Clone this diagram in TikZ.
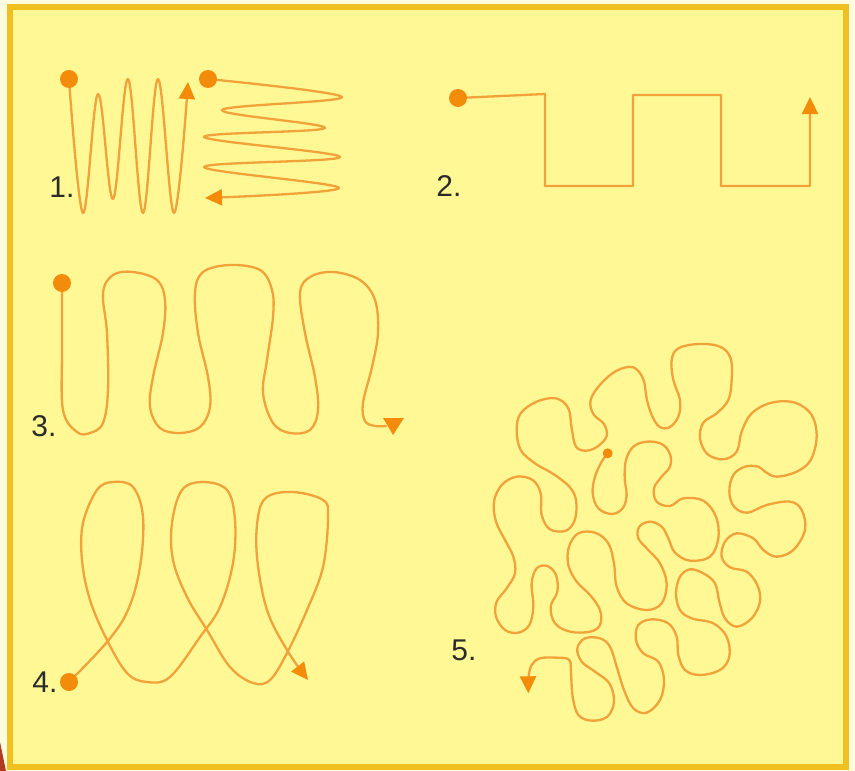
\documentclass[tikz,border=0pt]{standalone}
\usepackage{fontspec}
\setmainfont{Liberation Sans}
\usetikzlibrary{arrows.meta}

\definecolor{margin}{HTML}{FFFCE0}
\definecolor{paper}{HTML}{FFF894}
\definecolor{framegold}{HTML}{F0C020}
\definecolor{trailorange}{HTML}{F2A23A}
\definecolor{spotorange}{HTML}{F28C0A}
\definecolor{ink}{HTML}{2B2B2B}
\definecolor{cornerred}{HTML}{B03A22}

\begin{document}
\begin{tikzpicture}[
    x=1pt, y=-1pt,
    pathline/.style={draw=trailorange, line width=2.3pt, line cap=round, line join=round},
    pointer/.style={-{Triangle[length=17pt, width=16pt, color=spotorange]}},
    spot/.style={fill=spotorange},
    numlabel/.style={text=ink, font=\fontsize{30}{32}\selectfont, inner sep=0pt},
]

    % sheet and frame
    \useasboundingbox (0,0) rectangle (855,771);
    \fill[margin] (0,0) rectangle (855,771);
    \fill[paper] (10,7) rectangle (846,767);
    \draw[framegold, line width=6pt] (10,7) rectangle (846,767);
    \fill[cornerred] (0,742) -- (6,771) -- (0,771) -- cycle;

    % 1. zigzags
    \draw[pathline, pointer] plot[smooth, tension=0.6] coordinates {
        (69,79) (83,213) (98,94) (113,199) (128,79) (143,213) (158,79) (174,213) (188,82)};
    \draw[pathline, pointer] plot[smooth, tension=0.6] coordinates {
        (208,79) (342,97) (222,110) (325,128) (204,137) (340,157) (204,167) (339,188) (205,198)};
    \fill[spot] (69,79) circle[radius=9pt];
    \fill[spot] (208,79) circle[radius=9pt];
    \node (one) [numlabel] at (62,187) {1.};

    % 2. square wave
    \draw[pathline, pointer] (458,98) -- (545,94) -- (545,186) -- (633,186) -- (633,95)
        -- (721,95) -- (721,186) -- (810,186) -- (810,97);
    \fill[spot] (458,98) circle[radius=9pt];
    \node (two) [numlabel] at (449,186) {2.};

    % 3. meander
    \draw[pathline] plot[smooth, tension=0.6] coordinates {
        (62,283) (62,350) (63,410) (77,432) (90,433) (103,423) (108,390) (107,333) (103,293)
        (113,275) (133,272) (157,280) (165,300) (163,333) (153,377) (150,407) (160,428)
        (180,433) (200,427) (210,407) (208,377) (198,333) (195,293) (203,272) (230,265)
        (260,270) (272,290) (273,317) (267,360) (263,393) (273,423) (290,433) (310,430)
        (318,410) (315,377) (305,333) (300,293) (310,277) (333,272) (360,280) (375,300)
        (378,333) (372,367) (363,403) (365,421) (375,426) (386,426)};
    \fill[spotorange] (383,418) -- (404,418) -- (393,435) -- cycle;
    \fill[spot] (62,283) circle[radius=9pt];
    \node (three) [numlabel] at (44,426) {3.};

    % 4. loops
    \draw[pathline, pointer] plot[smooth, tension=0.6] coordinates {
        (69,682) (107,642) (128,610) (140,567) (143,517) (133,487) (113,482) (97,490)
        (83,523) (82,560) (90,600) (107,640) (127,673) (147,682) (170,677) (200,637)
        (220,607) (233,563) (235,520) (227,490) (203,482) (182,490) (172,523) (173,560)
        (187,597) (207,630) (230,667) (253,683) (270,680) (287,653) (307,610) (323,567)
        (328,517) (323,500) (293,492) (267,497) (258,517) (257,557) (267,610) (287,650)
        (308,680)};
    \fill[spot] (69,682) circle[radius=9pt];
    \node (four) [numlabel] at (45,682) {4.};

    % 5. random walk
    \begin{scope}[shift={(470,330)}, scale=1/3]
    \draw[pathline, pointer] plot[smooth, tension=0.6] coordinates {
        (413,370) (395,395) (375,440) (368,490) (385,535) (425,552) (458,535) (470,495)
        (464,445) (468,390) (490,350) (530,335) (575,342) (600,372) (600,410) (575,440)
        (552,475) (560,515) (600,528) (640,505) (700,512) (738,560) (745,625) (720,680)
        (660,692) (615,668) (595,625) (575,590) (540,575) (508,590) (505,625) (535,660)
        (570,700) (590,760) (575,820) (530,840) (470,820) (440,770) (432,700) (415,640)
        (375,608) (325,610) (297,650) (295,705) (320,755) (360,795) (390,840) (390,885)
        (360,905) (300,905) (255,880) (242,830) (262,785) (258,735) (232,708) (200,715)
        (185,760) (190,830) (178,885) (145,908) (105,900) (78,860) (80,815) (110,775)
        (135,730) (130,680) (105,630) (78,575) (72,515) (95,465) (140,440) (188,450)
        (212,490) (215,555) (240,598) (288,602) (315,568) (318,510) (298,470) (250,432)
        (195,400) (152,360) (140,300) (152,250) (200,215) (258,205) (295,235) (305,295)
        (318,350) (350,362) (385,348) (410,318) (402,282) (370,252) (362,210) (392,162)
        (440,122) (490,112) (520,148) (530,205) (545,255) (568,290) (598,292) (625,260)
        (630,210) (610,150) (605,90) (625,55) (685,42) (750,50) (782,85) (785,150)
        (775,210) (740,250) (700,278) (690,325) (712,372) (760,388) (800,365) (815,305)
        (845,250) (905,218) (975,218) (1025,255) (1040,320) (1022,390) (980,425) (920,440)
        (885,425) (865,410) (825,410) (790,435) (778,485) (792,530) (832,548) (890,525)
        (960,515) (995,540) (1005,600) (970,660) (920,680) (880,660) (850,625) (800,610)
        (765,635) (755,680) (780,712) (830,725) (862,765) (870,815) (845,865) (800,890)
        (765,865) (748,815) (735,760) (700,730) (660,718) (630,740) (618,790) (630,840)
        (665,865) (730,880) (770,920) (778,980) (750,1020) (690,1035) (645,1020) (625,975)
        (620,920) (595,880) (545,868) (505,885) (498,930) (520,970) (565,995) (582,1050)
        (570,1110) (530,1148) (490,1135) (462,1080) (440,1010) (420,950) (390,925) (345,925)
        (322,955) (335,995) (375,1025) (418,1060) (432,1115) (412,1160) (365,1172) (325,1155)
        (308,1100) (303,1030) (298,990) (260,983) (210,985) (185,1005) (176,1040) (175,1090)};
    \end{scope}
    \fill[spot] (607.7,453.3) circle[radius=5pt];
    \node (five) [numlabel] at (464,650) {5.};

\end{tikzpicture}
\end{document}
